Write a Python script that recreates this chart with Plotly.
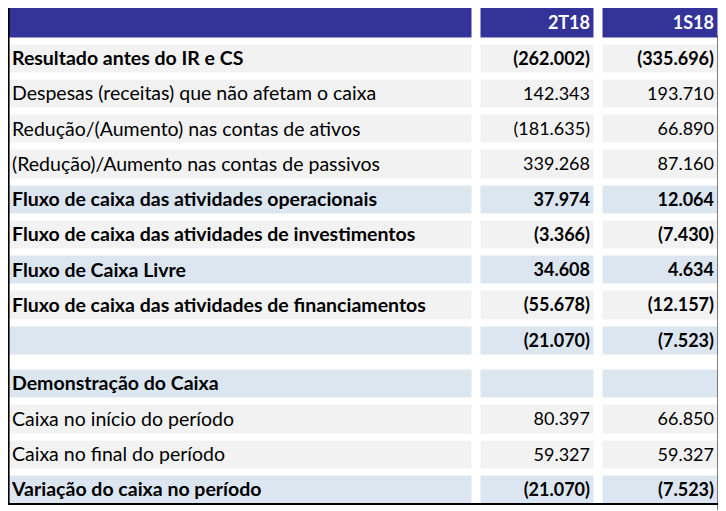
import plotly.graph_objects as go

# page is 726x511, the plot div sits at the body's default 8px margin
PAGE_W, PAGE_H, BODY = 726, 511, 8
W, H = PAGE_W - BODY, PAGE_H - BODY

# ---------------- data ----------------
col_headers = ["", "2T18", "1S18"]

top_labels = [
    "Resultado antes do IR e CS",
    "Despesas (receitas) que não afetam o caixa",
    "Redução/(Aumento) nas contas de ativos",
    "(Redução)/Aumento nas contas de passivos",
    "Fluxo de caixa das atividades operacionais",
    "Fluxo de caixa das atividades de investimentos",
    "Fluxo de Caixa Livre",
    "Fluxo de caixa das atividades de financiamentos",
    "",
]
top_2t18 = [-262002, 142343, -181635, 339268, 37974, -3366, 34608, -55678, -21070]
top_1s18 = [-335696, 193710, 66890, 87160, 12064, -7430, 4634, -12157, -7523]
top_bold = [True, False, False, False, True, True, True, True, True]
top_shade = ["gray", "gray", "gray", "gray", "blue", "gray", "blue", "gray", "blue"]

bot_labels = [
    "Demonstração do Caixa",
    "Caixa no início do período",
    "Caixa no final do período",
    "Variação do caixa no período",
]
bot_2t18 = [None, 80397, 59327, -21070]
bot_1s18 = [None, 66850, 59327, -7523]
bot_bold = [True, False, False, True]
bot_shade = ["blue", "gray", "gray", "blue"]

# ---------------- style / layout ----------------
FONT = "Lato"
FS_LABEL = 19.5
FS_NUM = 18
HEADER_BG = "#333399"
GRAY = "#F2F2F2"
BLUE = "#DCE6F1"
XGAP, YGAP = 9, 7
PAD = 4
TEXT_DY = 1.5

# column edges and row heights, in page pixels
col_edges = [3.5, 476.5, 598.5, 722.5]
header_top, header_h = 4.5, 36.5
top_row_h = 35.25
spacer_h = 8.15
bot_row_h = 35.3


def fmt(v):
    if v is None:
        return ""
    s = f"{abs(v):,}".replace(",", ".")
    return f"({s})" if v < 0 else s


def b(s, flag):
    return f"<b>{s}</b>" if (flag and s) else s


shade_code = {"gray": 0, "blue": 1}

y_edges = [header_top, header_top + header_h]
z = [[2, 2, 2]]
for s in top_shade:
    y_edges.append(y_edges[-1] + top_row_h)
    z.append([shade_code[s]] * 3)
y_edges.append(y_edges[-1] + spacer_h)
z.append([None, None, None])
for s in bot_shade:
    y_edges.append(y_edges[-1] + bot_row_h)
    z.append([shade_code[s]] * 3)

centers = [(y_edges[i] + y_edges[i + 1]) / 2 + TEXT_DY for i in range(len(y_edges) - 1)]
header_c = centers[0]
top_c = centers[1:1 + len(top_labels)]
bot_c = centers[2 + len(top_labels):]

labels = top_labels + bot_labels
bolds = top_bold + bot_bold
v1 = top_2t18 + bot_2t18
v2 = top_1s18 + bot_1s18
row_c = top_c + bot_c

fig = go.Figure()
fig.add_trace(go.Heatmap(
    x=col_edges, y=y_edges, z=z,
    zmin=0, zmax=2,
    colorscale=[[0, GRAY], [0.5, BLUE], [1, HEADER_BG]],
    showscale=False, xgap=XGAP, ygap=YGAP, hoverinfo="skip",
))

lab_x = col_edges[0] + XGAP / 2 + PAD
num1_x = col_edges[2] - XGAP / 2 - PAD
num2_x = col_edges[3] - XGAP / 2 - PAD

fig.add_trace(go.Scatter(
    x=[lab_x] * len(labels), y=row_c, mode="text",
    text=[b(l, f) for l, f in zip(labels, bolds)],
    textposition="middle right",
    textfont=dict(family=FONT, size=FS_LABEL, color="black"),
    hoverinfo="skip",
))
fig.add_trace(go.Scatter(
    x=[num1_x] * len(v1), y=row_c, mode="text",
    text=[b(fmt(v), f) for v, f in zip(v1, bolds)],
    textposition="middle left",
    textfont=dict(family=FONT, size=FS_NUM, color="black"),
    hoverinfo="skip",
))
fig.add_trace(go.Scatter(
    x=[num2_x] * len(v2), y=row_c, mode="text",
    text=[b(fmt(v), f) for v, f in zip(v2, bolds)],
    textposition="middle left",
    textfont=dict(family=FONT, size=FS_NUM, color="black"),
    hoverinfo="skip",
))
fig.add_trace(go.Scatter(
    x=[num1_x, num2_x], y=[header_c, header_c], mode="text",
    text=[b(h, True) for h in col_headers[1:]],
    textposition="middle left",
    textfont=dict(family=FONT, size=FS_NUM, color="white"),
    hoverinfo="skip",
))


def frame(x0, y0, x1, y1):
    return dict(type="line", xref="x", yref="y", x0=x0, y0=y0, x1=x1, y1=y1,
                line=dict(color="black", width=2))


bottom = y_edges[-1] - YGAP / 2
fig.update_layout(
    width=W, height=H,
    margin=dict(l=0, r=0, t=0, b=0),
    paper_bgcolor="white", plot_bgcolor="white",
    showlegend=False,
    xaxis=dict(range=[BODY, PAGE_W], visible=False, fixedrange=True),
    yaxis=dict(range=[PAGE_H, BODY], visible=False, fixedrange=True),
    shapes=[
        frame(8.6, 8, 8.6, bottom),
        frame(8, bottom, 718.5, bottom),
        frame(718.5, 36, 718.5, 510),
    ],
)

fig.write_html("out.html")
